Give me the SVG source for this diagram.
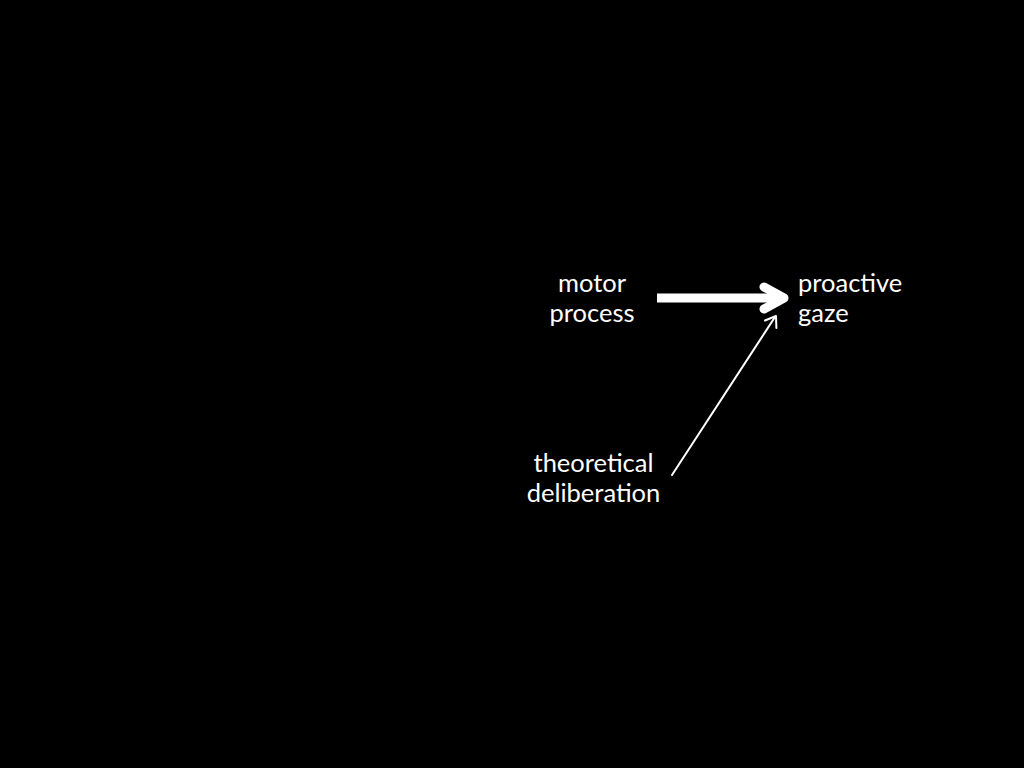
<svg xmlns="http://www.w3.org/2000/svg" width="1024" height="768" viewBox="0 0 1024 768">
<style>
.lbl{font-family:Lato,"Liberation Sans",sans-serif;font-size:25.5px;fill:#fff}
.c{fill:none;stroke:#fff;stroke-linecap:round;stroke-linejoin:round}
</style>
<rect width="1024" height="768" fill="#000"/>
<g id="connectors">
<path class="c" d="M657,298 H783" stroke-width="9" style="stroke-linecap:butt"/>
<path class="c" d="M764,287 L784,298 L764,309" stroke-width="9"/>
<path class="c" d="M672,475 L775,317" stroke-width="2"/>
<path class="c" d="M765,320.5 L776,316 L776.4,328" stroke-width="2"/>
</g>
<g id="motor">
<text class="lbl" x="592" y="292" text-anchor="middle">motor</text>
<text class="lbl" x="592" y="322" text-anchor="middle">process</text>
</g>
<g id="gaze">
<text class="lbl" x="798" y="292">proactive</text>
<text class="lbl" x="798" y="322">gaze</text>
</g>
<g id="theory">
<text class="lbl" x="593.5" y="472" text-anchor="middle">theoretical</text>
<text class="lbl" x="593.5" y="502" text-anchor="middle">deliberation</text>
</g>
</svg>
